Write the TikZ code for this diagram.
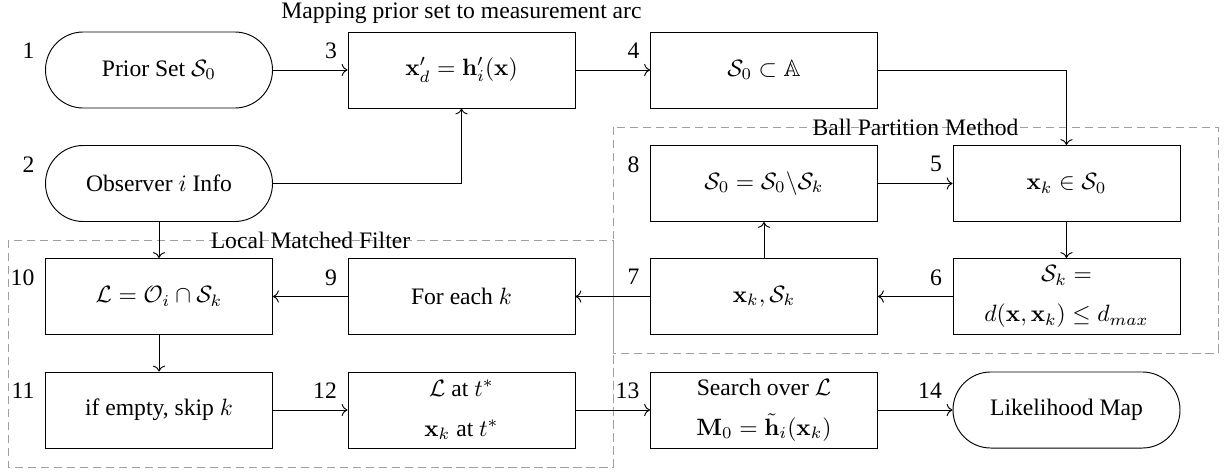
\documentclass[tikz,border=0pt]{standalone}
\usepackage{amsmath,amssymb}
\usepackage[no-math]{fontspec}
\setmainfont{Liberation Serif}
\usetikzlibrary{arrows.meta}
\begin{document}
\begin{tikzpicture}[x=0.4234pt,y=-0.4234pt,
  every node/.style={font=\fontsize{10}{12}\selectfont},
  box/.style={draw, line width=0.4pt, minimum width=96.1pt, minimum height=32.2pt, align=center, inner sep=2pt},
  term/.style={box, rounded corners=16pt},
  num/.style={anchor=north east, xshift=-1pt, yshift=-1.3pt},
  grp/.style={draw=gray!75, dash pattern=on 3.5pt off 2pt, line width=0.4pt},
  conn/.style={->, line width=0.4pt}]
\useasboundingbox (0,0) rectangle (1225,473);
% groups
\draw[grp] (613,127) rectangle (1218,353);
\draw[grp] (8,240) rectangle (613,467);
\node (tb) at (915.5,127) {Ball Partition Method};
\node (tl) at (310.5,240) {Local Matched Filter};
% nodes
\node[term] (n1) at (159,70) {Prior Set $\mathcal{S}_0$};
\node[term] (n2) at (159,183.5) {Observer $i$ Info};
\node[box] (n3) at (461.5,70) {$\mathbf{x}'_d = \mathbf{h}'_i(\mathbf{x})$};
\node[box] (n4) at (764,70) {$\mathcal{S}_0 \subset \mathbb{A}$};
\node[box] (n5) at (1066.5,183.5) {$\mathbf{x}_k \in \mathcal{S}_0$};
\node[box] (n6) at (1066.5,296.5) {$\mathcal{S}_k =$\\[5pt]$d(\mathbf{x},\mathbf{x}_k) \leq d_{max}$};
\node[box] (n7) at (764,296.5) {$\mathbf{x}_k, \mathcal{S}_k$};
\node[box] (n8) at (764,183.5) {$\mathcal{S}_0 = \mathcal{S}_0 \backslash \mathcal{S}_k$};
\node[box] (n9) at (461.5,296.5) {For each $k$};
\node[box] (n10) at (159,296.5) {$\mathcal{L} = \mathcal{O}_i \cap \mathcal{S}_k$};
\node[box] (n11) at (159,410) {if empty, skip $k$};
\node[box] (n12) at (461.5,410) {$\mathcal{L}$ at $t^*$\\[5pt]$\mathbf{x}_k$ at $t^*$};
\node[box] (n13) at (764,410) {Search over $\mathcal{L}$\\[5pt]$\mathbf{M}_0 = \tilde{\mathbf{h}}_i(\mathbf{x}_k)$};
\node[term] (n14) at (1066.5,410) {Likelihood Map};
\node[anchor=south] (tm) at (n3.north) {Mapping prior set to measurement arc};
\foreach \i in {1,...,14} \node[num] (l\i) at (n\i.north west) {\i};
% connectors
\draw[conn] (n1) -- (n3);
\draw[conn] (n2.east) -| (n3.south);
\draw[conn] (n3) -- (n4);
\draw[conn] (n4.east) -| (n5.north);
\draw[conn] (n5) -- (n6);
\draw[conn] (n6) -- (n7);
\draw[conn] (n7) -- (n8);
\draw[conn] (n8) -- (n5);
\draw[conn] (n7) -- (n9);
\draw[conn] (n2) -- (n10);
\draw[conn] (n9) -- (n10);
\draw[conn] (n10) -- (n11);
\draw[conn] (n11) -- (n12);
\draw[conn] (n12) -- (n13);
\draw[conn] (n13) -- (n14);
\end{tikzpicture}
\end{document}
